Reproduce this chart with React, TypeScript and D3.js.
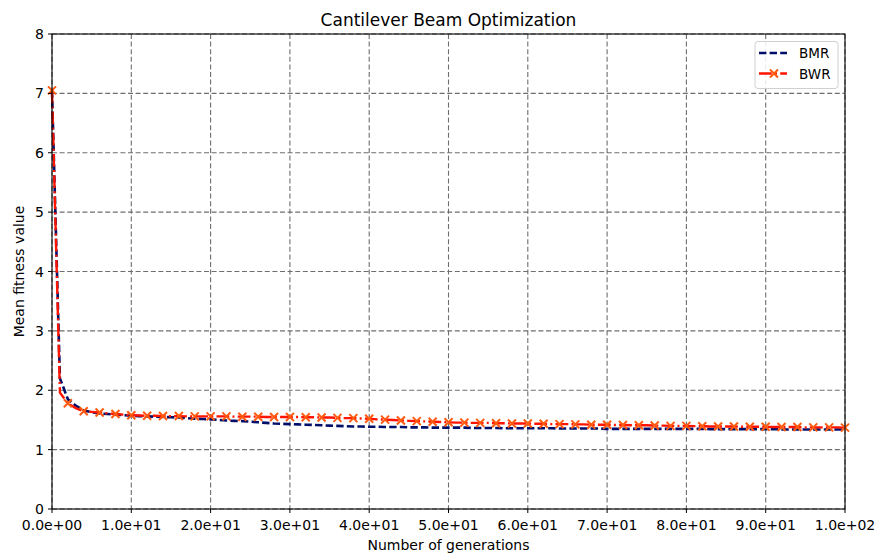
import React from "react";
import * as d3 from "d3";

const generations: number[] = d3.range(0, 101);

const bmrValues: number[] = [
  7.05, 2.2, 1.85, 1.74, 1.66, 1.63, 1.61, 1.6, 1.59, 1.58,
  1.57, 1.565, 1.56, 1.555, 1.55, 1.545, 1.54, 1.53, 1.52, 1.515,
  1.51, 1.5, 1.49, 1.485, 1.48, 1.47, 1.46, 1.45, 1.44, 1.435,
  1.43, 1.425, 1.42, 1.415, 1.41, 1.405, 1.4, 1.395, 1.39, 1.39,
  1.385, 1.385, 1.38, 1.38, 1.38, 1.375, 1.375, 1.375, 1.37, 1.37,
  1.37, 1.37, 1.37, 1.365, 1.365, 1.365, 1.365, 1.36, 1.36, 1.36,
  1.36, 1.36, 1.36, 1.36, 1.355, 1.355, 1.355, 1.355, 1.355, 1.355,
  1.35, 1.35, 1.35, 1.35, 1.35, 1.35, 1.35, 1.35, 1.35, 1.35,
  1.35, 1.35, 1.35, 1.345, 1.345, 1.345, 1.345, 1.345, 1.345, 1.345,
  1.345, 1.345, 1.34, 1.34, 1.34, 1.34, 1.34, 1.34, 1.34, 1.34,
  1.34,
];

const bwrValues: number[] = [
  7.05, 1.96, 1.78, 1.7, 1.645, 1.635, 1.625, 1.61, 1.6, 1.59,
  1.58, 1.575, 1.57, 1.57, 1.565, 1.565, 1.565, 1.56, 1.56, 1.56,
  1.56, 1.56, 1.56, 1.555, 1.555, 1.555, 1.555, 1.55, 1.55, 1.55,
  1.55, 1.55, 1.545, 1.545, 1.54, 1.54, 1.535, 1.53, 1.53, 1.525,
  1.52, 1.51, 1.505, 1.5, 1.49, 1.485, 1.48, 1.475, 1.47, 1.465,
  1.46, 1.455, 1.455, 1.45, 1.45, 1.45, 1.445, 1.445, 1.44, 1.44,
  1.44, 1.435, 1.435, 1.43, 1.43, 1.43, 1.425, 1.425, 1.42, 1.42,
  1.42, 1.415, 1.415, 1.41, 1.41, 1.41, 1.405, 1.405, 1.4, 1.4,
  1.4, 1.395, 1.395, 1.39, 1.39, 1.39, 1.39, 1.385, 1.385, 1.385,
  1.385, 1.38, 1.38, 1.38, 1.38, 1.375, 1.375, 1.375, 1.375, 1.375,
  1.37,
];

const xTicks: number[] = [0, 10, 20, 30, 40, 50, 60, 70, 80, 90, 100];
const xTickLabels: string[] = [
  "0.0e+00", "1.0e+01", "2.0e+01", "3.0e+01", "4.0e+01", "5.0e+01",
  "6.0e+01", "7.0e+01", "8.0e+01", "9.0e+01", "1.0e+02",
];
const yTicks: number[] = [0, 1, 2, 3, 4, 5, 6, 7, 8];
const seriesNames: string[] = ["BMR", "BWR"];

const W = 880;
const H = 559;
const left = 52;
const right = 845;
const top = 34;
const bottom = 509;
const font = "'DejaVu Sans', sans-serif";
const bmrColor = "#00106a";
const bwrColor = "#ff1400";
const markerColor = "#ff5a10";
const gridColor = "#6e6e6e";

export default function App() {
  const x = d3.scaleLinear().domain([0, 100]).range([left, right]);
  const y = d3.scaleLinear().domain([0, 8]).range([bottom, top]);
  const line = d3
    .line<number>()
    .x((_, i) => x(generations[i]))
    .y((d) => y(d));

  const markerIdx = generations.map((_, i) => i).filter((i) => i % 2 === 0);
  const xMark = (cx: number, cy: number, s: number, key: any) => (
    <path
      key={key}
      d={`M${cx - s},${cy - s}L${cx + s},${cy + s}M${cx - s},${cy + s}L${cx + s},${cy - s}`}
      stroke={markerColor}
      strokeWidth={2}
      fill="none"
    />
  );

  return (
    <svg
      width={W}
      height={H}
      style={{ position: "absolute", left: 0, top: 0, background: "#fff" }}
      fontFamily={font}
    >
      <rect x={0} y={0} width={W} height={H} fill="#fff" />
      {/* grid */}
      {xTicks.map((t) => (
        <line
          key={"gx" + t}
          x1={x(t)}
          x2={x(t)}
          y1={top}
          y2={bottom}
          stroke={gridColor}
          strokeWidth={1.1}
          strokeDasharray="5,2.6"
        />
      ))}
      {yTicks.map((t) => (
        <line
          key={"gy" + t}
          x1={left}
          x2={right}
          y1={y(t)}
          y2={y(t)}
          stroke={gridColor}
          strokeWidth={1.1}
          strokeDasharray="5,2.6"
        />
      ))}
      {/* series */}
      <path
        d={line(bmrValues) || ""}
        fill="none"
        stroke={bmrColor}
        strokeWidth={2.6}
        strokeDasharray="7.4,3.2"
      />
      <path
        d={line(bwrValues) || ""}
        fill="none"
        stroke={bwrColor}
        strokeWidth={2.4}
        strokeDasharray="12.8,3.2,2,3.2"
      />
      {markerIdx.map((i) => xMark(x(generations[i]), y(bwrValues[i]), 4, "m" + i))}
      {/* spines */}
      <rect
        x={left}
        y={top}
        width={right - left}
        height={bottom - top}
        fill="none"
        stroke="#000"
        strokeWidth={1.1}
      />
      {/* ticks */}
      {xTicks.map((t, i) => (
        <g key={"tx" + t}>
          <line x1={x(t)} x2={x(t)} y1={bottom} y2={bottom + 4} stroke="#000" />
          <text
            x={x(t)}
            y={bottom + 21}
            textAnchor="middle"
            fontSize={14}
            fill="#000"
          >
            {xTickLabels[i]}
          </text>
        </g>
      ))}
      {yTicks.map((t) => (
        <g key={"ty" + t}>
          <line x1={left - 4} x2={left} y1={y(t)} y2={y(t)} stroke="#000" />
          <text
            x={left - 8}
            y={y(t) + 5}
            textAnchor="end"
            fontSize={14}
            fill="#000"
          >
            {t}
          </text>
        </g>
      ))}
      {/* labels */}
      <text x={(left + right) / 2} y={26} textAnchor="middle" fontSize={17} fill="#000">
        Cantilever Beam Optimization
      </text>
      <text x={(left + right) / 2} y={550} textAnchor="middle" fontSize={14} fill="#000">
        Number of generations
      </text>
      <text
        transform={`translate(24,${(top + bottom) / 2}) rotate(-90)`}
        textAnchor="middle"
        fontSize={14}
        fill="#000"
      >
        Mean fitness value
      </text>
      {/* legend */}
      <rect
        x={755}
        y={41.5}
        width={83}
        height={47}
        rx={3}
        fill="#fff"
        fillOpacity={0.85}
        stroke="#d0d0d0"
        strokeWidth={1}
      />
      <line
        x1={759}
        x2={787}
        y1={53}
        y2={53}
        stroke={bmrColor}
        strokeWidth={2.6}
        strokeDasharray="7.4,3.2"
      />
      <text x={799} y={58} fontSize={13.5} fill="#000">
        {seriesNames[0]}
      </text>
      <line
        x1={759}
        x2={787}
        y1={73.5}
        y2={73.5}
        stroke={bwrColor}
        strokeWidth={2.4}
        strokeDasharray="12.8,3.2,2,3.2"
      />
      {xMark(774, 73.5, 4, "legm")}
      <text x={799} y={78.5} fontSize={13.5} fill="#000">
        {seriesNames[1]}
      </text>
    </svg>
  );
}
